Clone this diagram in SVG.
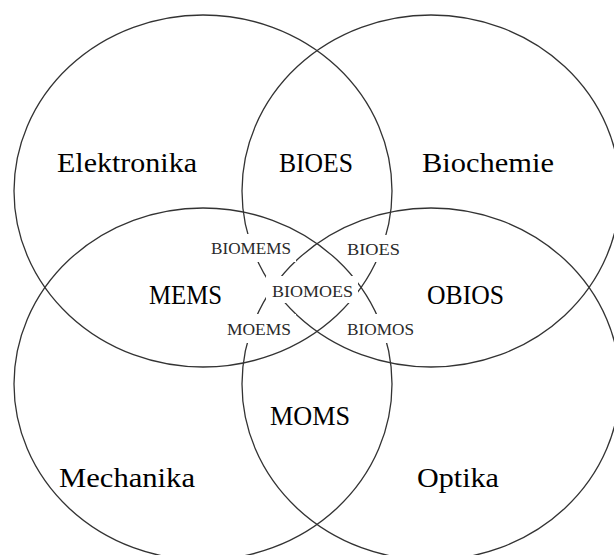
<svg xmlns="http://www.w3.org/2000/svg" width="614" height="555" viewBox="0 0 614 555">
  <style>
    .set { fill: none; stroke: #333; stroke-width: 1.3; }
    .big { font-family: "Liberation Serif", "Times New Roman", serif; font-size: 27px; fill: #000; }
    .small { font-family: "Liberation Serif", "Times New Roman", serif; font-size: 17px; fill: #2a2a2a; }
    .pad { fill: #fff; stroke: none; }
  </style>
  <rect width="614" height="555" fill="#fff"/>

  <!-- the four overlapping fields -->
  <g id="sets">
    <ellipse id="set-elektronika" class="set" cx="203" cy="191" rx="189" ry="176"/>
    <ellipse id="set-biochemie" class="set" cx="431" cy="191" rx="189" ry="176"/>
    <ellipse id="set-mechanika" class="set" cx="203" cy="384" rx="189" ry="176"/>
    <ellipse id="set-optika" class="set" cx="431" cy="384" rx="189" ry="176"/>
  </g>

  <!-- field names and pairwise overlaps -->
  <g id="label-elektronika"><text class="big" x="57" y="172" textLength="140" lengthAdjust="spacingAndGlyphs">Elektronika</text></g>
  <g id="label-bioes-top"><text class="big" x="279" y="172" textLength="74" lengthAdjust="spacingAndGlyphs">BIOES</text></g>
  <g id="label-biochemie"><text class="big" x="422" y="172" textLength="132" lengthAdjust="spacingAndGlyphs">Biochemie</text></g>
  <g id="label-mems"><text class="big" x="149" y="304" textLength="73" lengthAdjust="spacingAndGlyphs">MEMS</text></g>
  <g id="label-obios"><text class="big" x="427" y="304" textLength="77" lengthAdjust="spacingAndGlyphs">OBIOS</text></g>
  <g id="label-moms"><text class="big" x="270" y="425" textLength="80" lengthAdjust="spacingAndGlyphs">MOMS</text></g>
  <g id="label-mechanika"><text class="big" x="59" y="487" textLength="136" lengthAdjust="spacingAndGlyphs">Mechanika</text></g>
  <g id="label-optika"><text class="big" x="417" y="487" textLength="82" lengthAdjust="spacingAndGlyphs">Optika</text></g>

  <!-- triple and quadruple overlaps, on white pads -->
  <g id="label-biomems">
    <rect class="pad" x="206" y="234" width="90" height="28"/>
    <text class="small" x="211" y="254" textLength="80" lengthAdjust="spacingAndGlyphs">BIOMEMS</text>
  </g>
  <g id="label-bioes-small">
    <rect class="pad" x="342" y="235" width="63" height="27"/>
    <text class="small" x="347" y="255" textLength="53" lengthAdjust="spacingAndGlyphs">BIOES</text>
  </g>
  <g id="label-biomoes">
    <rect class="pad" x="266" y="276" width="92" height="27"/>
    <text class="small" x="272" y="297" textLength="81" lengthAdjust="spacingAndGlyphs">BIOMOES</text>
  </g>
  <g id="label-moems">
    <rect class="pad" x="222" y="314" width="74" height="29"/>
    <text class="small" x="227" y="335" textLength="64" lengthAdjust="spacingAndGlyphs">MOEMS</text>
  </g>
  <g id="label-biomos">
    <rect class="pad" x="342" y="314" width="76" height="29"/>
    <text class="small" x="347" y="335" textLength="67" lengthAdjust="spacingAndGlyphs">BIOMOS</text>
  </g>
</svg>
